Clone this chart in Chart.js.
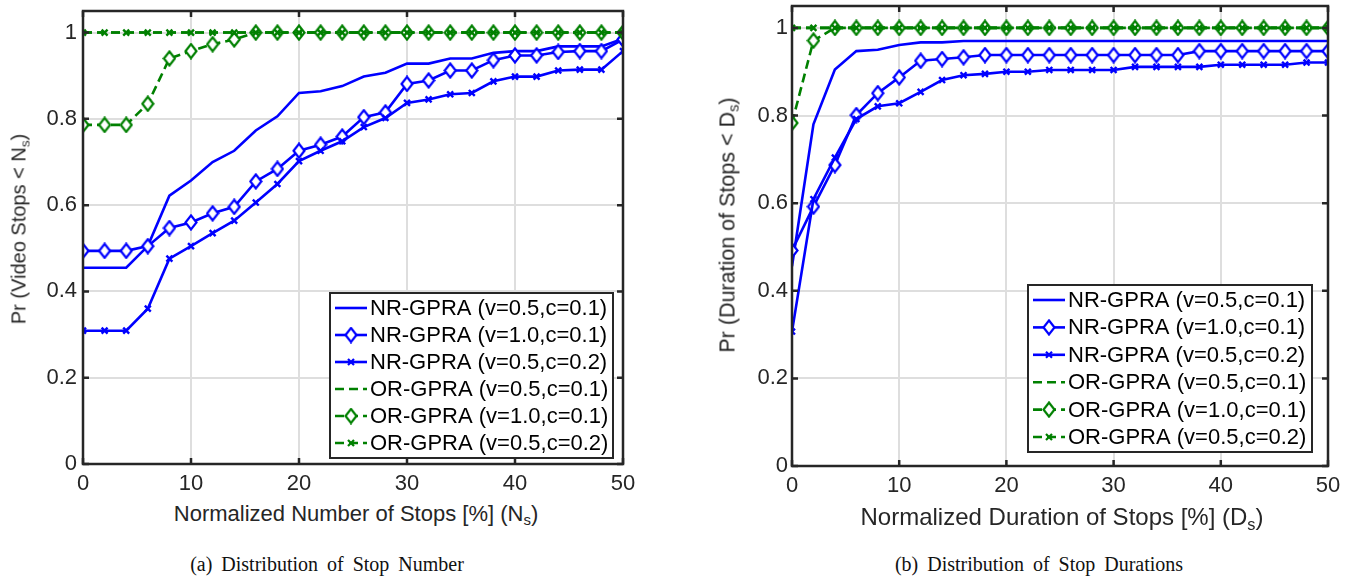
<!DOCTYPE html>
<html>
<head>
<meta charset="utf-8">
<script src="https://cdn.jsdelivr.net/npm/chart.js@4.4.1/dist/chart.umd.min.js"></script>
<style>
  body { margin: 0; background: #fff; width: 1354px; height: 576px; overflow: hidden; position: relative; font-family: 'Liberation Sans', Arial, sans-serif; }
  .box { position: absolute; }
  .title { position: absolute; color: #262626; font-size: 22px; white-space: nowrap; }
  .title sub { font-size: 0.68em; vertical-align: -0.28em; line-height: 0; }
  .ytitle { transform: translate(-50%, -50%) rotate(-90deg); }
  .xtitle { transform: translate(-50%, -50%); }
  .caption { position: absolute; font-family: 'Liberation Serif', 'Times New Roman', serif; font-size: 20px; color: #111; transform: translate(-50%, -50%); white-space: nowrap; word-spacing: 4px; }
</style>
</head>
<body>
<div class="box" style="left:0; top:-20px; width:670px; height:520px;"><canvas id="chartA"></canvas></div>
<div class="box" style="left:700px; top:-20px; width:654px; height:526px;"><canvas id="chartB"></canvas></div>

<div class="title ytitle" style="left:19px; top:229px; font-size:20px;">Pr (Video Stops &lt; N<sub>s</sub>)</div>
<div class="title xtitle" style="left:356px; top:514px;">Normalized Number of Stops [%] (N<sub>s</sub>)</div>
<div class="title ytitle" style="left:728px; top:225px; font-size:21.5px;">Pr (Duration of Stops &lt; D<sub>s</sub>)</div>
<div class="title xtitle" style="left:1062px; top:517px; font-size:24px;">Normalized Duration of Stops [%] (D<sub>s</sub>)</div>

<div class="caption" style="left:327px; top:564px;">(a) Distribution of Stop Number</div>
<div class="caption" style="left:1039px; top:564px;">(b) Distribution of Stop Durations</div>

<script>
// x positions shared by both plots (percent)
const stops = [0, 2, 4, 6, 8, 10, 12, 14, 16, 18, 20, 22, 24, 26, 28, 30, 32, 34, 36, 38, 40, 42, 44, 46, 48, 50];

const seriesNames = [
    'NR-GPRA (v=0.5,c=0.1)',
    'NR-GPRA (v=1.0,c=0.1)',
    'NR-GPRA (v=0.5,c=0.2)',
    'OR-GPRA (v=0.5,c=0.1)',
    'OR-GPRA (v=1.0,c=0.1)',
    'OR-GPRA (v=0.5,c=0.2)'
];

// (a) number of stops
const numNrA = [0.455, 0.455, 0.455, 0.505, 0.622, 0.657, 0.700, 0.726, 0.773, 0.806, 0.860, 0.864, 0.876, 0.898, 0.907, 0.928, 0.928, 0.940, 0.940, 0.953, 0.957, 0.957, 0.968, 0.968, 0.968, 0.986];
const numNrB = [0.494, 0.494, 0.494, 0.505, 0.547, 0.560, 0.581, 0.596, 0.655, 0.684, 0.726, 0.740, 0.759, 0.804, 0.815, 0.881, 0.889, 0.912, 0.912, 0.936, 0.947, 0.947, 0.955, 0.957, 0.957, 0.984];
const numNrC = [0.309, 0.309, 0.309, 0.360, 0.476, 0.505, 0.535, 0.564, 0.606, 0.649, 0.702, 0.726, 0.748, 0.781, 0.802, 0.837, 0.845, 0.857, 0.860, 0.887, 0.898, 0.898, 0.912, 0.914, 0.914, 0.957];
const numOrA = [1, 1, 1, 1, 1, 1, 1, 1, 1, 1, 1, 1, 1, 1, 1, 1, 1, 1, 1, 1, 1, 1, 1, 1, 1, 1];
const numOrB = [0.786, 0.786, 0.786, 0.835, 0.940, 0.957, 0.973, 0.984, 1, 1, 1, 1, 1, 1, 1, 1, 1, 1, 1, 1, 1, 1, 1, 1, 1, 1];
const numOrC = [1, 1, 1, 1, 1, 1, 1, 1, 1, 1, 1, 1, 1, 1, 1, 1, 1, 1, 1, 1, 1, 1, 1, 1, 1, 1];

// (b) duration of stops
const durNrA = [0.456, 0.780, 0.905, 0.947, 0.950, 0.961, 0.967, 0.967, 0.970, 0.970, 0.970, 0.970, 0.970, 0.970, 0.970, 0.970, 0.970, 0.970, 0.970, 0.970, 0.970, 0.970, 0.970, 0.970, 0.970, 0.970];
const durNrB = [0.492, 0.592, 0.687, 0.801, 0.851, 0.887, 0.925, 0.929, 0.933, 0.938, 0.938, 0.938, 0.938, 0.938, 0.938, 0.938, 0.938, 0.938, 0.938, 0.947, 0.947, 0.947, 0.947, 0.947, 0.947, 0.947];
const durNrC = [0.307, 0.609, 0.704, 0.792, 0.821, 0.828, 0.854, 0.881, 0.892, 0.895, 0.900, 0.900, 0.904, 0.904, 0.904, 0.904, 0.911, 0.911, 0.911, 0.911, 0.916, 0.916, 0.916, 0.916, 0.921, 0.921];
const durOrA = [1, 1, 1, 1, 1, 1, 1, 1, 1, 1, 1, 1, 1, 1, 1, 1, 1, 1, 1, 1, 1, 1, 1, 1, 1, 1];
const durOrB = [0.783, 0.971, 1, 1, 1, 1, 1, 1, 1, 1, 1, 1, 1, 1, 1, 1, 1, 1, 1, 1, 1, 1, 1, 1, 1, 1];
const durOrC = [1, 1, 1, 1, 1, 1, 1, 1, 1, 1, 1, 1, 1, 1, 1, 1, 1, 1, 1, 1, 1, 1, 1, 1, 1, 1];

const yTicks = [0, 0.2, 0.4, 0.6, 0.8, 1];
const xTicks = [0, 10, 20, 30, 40, 50];

const BLUE = '#0000ff';
const GREEN = '#008000';
const AXIS = '#262626';
const FONT = '"Liberation Sans", Arial, sans-serif';

// hollow diamond marker, a bit taller than wide like MATLAB's
function makeDiamond(color) {
    const c = document.createElement('canvas');
    c.width = 14; c.height = 17;
    const g = c.getContext('2d');
    g.beginPath();
    g.moveTo(7, 1.5); g.lineTo(12.5, 8.5); g.lineTo(7, 15.5); g.lineTo(1.5, 8.5);
    g.closePath();
    g.fillStyle = '#fff';
    g.fill();
    g.lineWidth = 2.2;
    g.strokeStyle = color;
    g.stroke();
    return c;
}
const blueDiamond = makeDiamond(BLUE);
const greenDiamond = makeDiamond(GREEN);

function buildDatasets(values) {
    const styles = [
        { color: BLUE, dash: [], marker: null },
        { color: BLUE, dash: [], marker: blueDiamond },
        { color: BLUE, dash: [], marker: 'crossRot' },
        { color: GREEN, dash: [9, 5], marker: null },
        { color: GREEN, dash: [9, 5], marker: greenDiamond },
        { color: GREEN, dash: [9, 5], marker: 'crossRot' }
    ];
    return values.map((vals, i) => {
        const s = styles[i];
        return {
            label: seriesNames[i],
            data: vals.map((v, k) => ({ x: stops[k], y: v })),
            borderColor: s.color,
            backgroundColor: s.color,
            borderWidth: 2.6,
            borderDash: s.dash,
            pointStyle: s.marker || 'circle',
            pointRadius: s.marker ? (s.marker === 'crossRot' ? 4.2 : 7) : 0,
            pointBorderWidth: 2.4,
            pointBorderColor: s.color,
            tension: 0,
            order: 5 - i,
            _marker: s.marker
        };
    });
}

// axes box with inward ticks, and the legend drawn inside the plot
const matlabAxes = {
    id: 'matlabAxes',
    afterDatasetsDraw(chart, args, opts) {
        const ctx = chart.ctx;
        const a = chart.chartArea;
        const xs = chart.scales.x, ys = chart.scales.y;
        ctx.save();
        ctx.strokeStyle = AXIS;
        ctx.lineWidth = 2.5;
        ctx.setLineDash([]);
        ctx.strokeRect(a.left, a.top, a.right - a.left, a.bottom - a.top);
        xTicks.forEach(t => {
            const px = xs.getPixelForValue(t);
            ctx.beginPath();
            ctx.moveTo(px, a.bottom); ctx.lineTo(px, a.bottom - 6);
            ctx.moveTo(px, a.top); ctx.lineTo(px, a.top + 6);
            ctx.stroke();
        });
        yTicks.forEach(t => {
            const py = ys.getPixelForValue(t);
            ctx.beginPath();
            ctx.moveTo(a.left, py); ctx.lineTo(a.left + 6, py);
            ctx.moveTo(a.right, py); ctx.lineTo(a.right - 6, py);
            ctx.stroke();
        });

        // legend
        const lg = opts.legend;
        const bx = a.right - lg.right - lg.width;
        const by = a.bottom - lg.bottom - lg.height;
        ctx.fillStyle = '#fff';
        ctx.fillRect(bx, by, lg.width, lg.height);
        ctx.lineWidth = 2;
        ctx.strokeStyle = AXIS;
        ctx.strokeRect(bx, by, lg.width, lg.height);
        ctx.font = '22px ' + FONT;
        ctx.textBaseline = 'middle';
        ctx.textAlign = 'left';
        chart.data.datasets.forEach((ds, i) => {
            const cy = by + 15 + i * lg.row;
            const x0 = bx + 5, x1 = bx + 37, cx = (x0 + x1) / 2;
            ctx.strokeStyle = ds.borderColor;
            ctx.lineWidth = 2.6;
            ctx.setLineDash(ds.borderDash);
            ctx.beginPath();
            ctx.moveTo(x0, cy); ctx.lineTo(x1, cy);
            ctx.stroke();
            ctx.setLineDash([]);
            if (ds._marker && ds._marker !== 'crossRot') {
                ctx.drawImage(ds._marker, cx - ds._marker.width / 2, cy - ds._marker.height / 2);
            } else if (ds._marker === 'crossRot') {
                ctx.lineWidth = 2.2;
                ctx.beginPath();
                ctx.moveTo(cx - 3, cy - 3); ctx.lineTo(cx + 3, cy + 3);
                ctx.moveTo(cx + 3, cy - 3); ctx.lineTo(cx - 3, cy + 3);
                ctx.stroke();
            }
            ctx.fillStyle = '#000';
            ctx.fillText(ds.label, bx + 40, cy + 1);
        });
        ctx.restore();
    }
};

function makeChart(id, values, yAxisWidth, xAxisHeight, yPad, pad, legendPos) {
    new Chart(document.getElementById(id), {
        type: 'line',
        data: { datasets: buildDatasets(values) },
        options: {
            responsive: true,
            maintainAspectRatio: false,
            animation: false,
            events: [],
            layout: { padding: pad },
            plugins: {
                legend: { display: false },
                tooltip: { enabled: false },
                matlabAxes: { legend: legendPos }
            },
            scales: {
                x: {
                    type: 'linear',
                    min: 0,
                    max: 50,
                    afterBuildTicks: s => { s.ticks = xTicks.map(v => ({ value: v })); },
                    afterFit: s => { s.height = xAxisHeight; },
                    grid: { color: '#dedede', lineWidth: 2, drawTicks: false },
                    border: { display: false },
                    ticks: {
                        color: AXIS,
                        padding: 7,
                        maxRotation: 0,
                        font: { family: FONT, size: 22 }
                    }
                },
                y: {
                    type: 'linear',
                    min: 0,
                    max: 1.05,
                    afterBuildTicks: s => { s.ticks = yTicks.map(v => ({ value: v })); },
                    afterFit: s => { s.width = yAxisWidth; },
                    grid: { color: '#dedede', lineWidth: 2, drawTicks: false },
                    border: { display: false },
                    ticks: {
                        color: AXIS,
                        padding: yPad,
                        font: { family: FONT, size: 22 },
                        callback: v => String(Math.round(v * 10) / 10)
                    }
                }
            }
        },
        plugins: [matlabAxes]
    });
}

makeChart('chartA', [numNrA, numNrB, numNrC, numOrA, numOrB, numOrC], 83, 36, 6,
    { left: 0, top: 31, right: 47, bottom: 0 },
    { right: 10, bottom: 6, width: 283, height: 165, row: 27 });

makeChart('chartB', [durNrA, durNrB, durNrC, durOrA, durOrB, durOrC], 92, 40, 4,
    { left: 0, top: 26, right: 26, bottom: 0 },
    { right: 16, bottom: 14, width: 284, height: 167, row: 27.4 });
</script>
</body>
</html>
